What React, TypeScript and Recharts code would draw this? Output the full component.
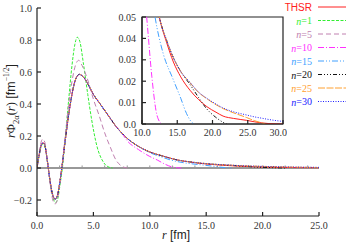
import React from 'react';
import { LineChart, Line, XAxis, YAxis, ReferenceLine, ReferenceArea } from 'recharts';

// shared inner part of the wave function (same for THSR and large n)
const coreR = [0, 0.2, 0.4, 0.55, 0.7, 0.85, 1.0, 1.2, 1.4, 1.6, 1.8, 2.0, 2.2, 2.5, 2.8, 3.1, 3.4, 3.75, 4.1, 4.7, 5.0, 5.5, 6.0, 6.5, 7.0, 7.5];
const coreV = [0, 0.085, 0.148, 0.157, 0.14, 0.08, 0, -0.1, -0.17, -0.195, -0.175, -0.1, 0, 0.17, 0.33, 0.46, 0.55, 0.585, 0.57, 0.5, 0.46, 0.41, 0.36, 0.31, 0.26, 0.22];

const thsrTailR = [8, 9, 10, 11.2, 12.45, 13.5, 14.45, 15.5, 16.8, 18, 19.2, 20.5, 21.5, 23, 24.85, 26, 27, 28, 30];
const thsrTailV = [0.185, 0.135, 0.1, 0.074, 0.05, 0.038, 0.029, 0.022, 0.0158, 0.0115, 0.0081, 0.0055, 0.0037, 0.0026, 0.0017, 0.001, 0.0005, 0.0002, 0];

const n30TailR = [13.5, 14.45, 15.5, 16.8, 18, 19.2, 20.5, 21.5, 23, 24.85, 26, 27, 28, 29, 30];
const n30TailV = [0.039, 0.031, 0.0245, 0.0195, 0.015, 0.012, 0.0093, 0.0075, 0.0057, 0.0042, 0.0033, 0.0027, 0.0021, 0.0016, 0.0012];

const n25TailR = [13.5, 14.45, 15.5, 16.8, 18, 19.2, 20.5, 21.5, 23, 24.85, 26, 27, 27.5];
const n25TailV = [0.039, 0.031, 0.0245, 0.0193, 0.0148, 0.0118, 0.009, 0.0072, 0.0052, 0.003, 0.0015, 0.0005, 0];

const n20TailR = [13.5, 14.45, 15.5, 16.8, 18, 19.2, 20.4, 21.5, 22];
const n20TailV = [0.039, 0.031, 0.0245, 0.0185, 0.0125, 0.007, 0.0033, 0.0008, 0];

const n15TailR = [10, 11, 11.85, 13, 14.4, 15.5, 16.3, 17, 17.3];
const n15TailV = [0.096, 0.07, 0.05, 0.033, 0.021, 0.012, 0.005, 0.001, 0];

const n10TailR = [8, 9, 10, 10.66, 11.4, 12, 12.5, 12.8];
const n10TailV = [0.17, 0.115, 0.072, 0.05, 0.022, 0.006, 0.001, 0];

const n5R = [0, 0.2, 0.4, 0.5, 0.7, 0.85, 1.0, 1.2, 1.4, 1.6, 1.8, 2.0, 2.2, 2.5, 2.8, 3.1, 3.4, 3.7, 4.0, 4.5, 5.0, 5.5, 6.0, 6.5, 7.0, 7.5, 8.0];
const n5V = [0, 0.1, 0.17, 0.18, 0.16, 0.09, 0, -0.115, -0.2, -0.225, -0.2, -0.11, 0, 0.2, 0.39, 0.54, 0.64, 0.673, 0.64, 0.55, 0.43, 0.33, 0.22, 0.13, 0.05, 0.012, 0];

const n1R = [0, 0.2, 0.4, 0.55, 0.7, 0.85, 1.0, 1.2, 1.4, 1.65, 1.85, 2.05, 2.25, 2.5, 2.8, 3.1, 3.35, 3.57, 3.8, 4.1, 4.5, 4.85, 5.3, 5.9, 6.3, 6.7];
const n1V = [0, 0.08, 0.14, 0.15, 0.135, 0.075, 0, -0.105, -0.18, -0.215, -0.19, -0.1, 0, 0.18, 0.42, 0.64, 0.77, 0.817, 0.79, 0.66, 0.46, 0.3, 0.14, 0.035, 0.008, 0];

const mainYTicks = [-0.2, 0, 0.2, 0.4, 0.6, 0.8, 1.0];
const mainXTicks = [0, 5, 10, 15, 20, 25];
const zeroLineMarks = [2, 4, 6, 8, 10, 12, 14, 16, 18, 20, 22, 24];
const insetYTicks = [0, 0.01, 0.02, 0.03, 0.04, 0.05];
const insetXTicks = [10, 15, 20, 25, 30];

type Pt = { r: number; v: number };
const pts = (r: number[], v: number[]): Pt[] => r.map((x, i) => ({ r: x, v: v[i] }));
const upTo = (r: number[], v: number[], max: number) => pts(r, v).filter((p) => p.r <= max);

const core = pts(coreR, coreV);
const thsr = [...core, ...pts(thsrTailR, thsrTailV)];
const n30 = [...core, ...upTo(thsrTailR, thsrTailV, 12.45), ...pts(n30TailR, n30TailV)];
const n25 = [...core, ...upTo(thsrTailR, thsrTailV, 12.45), ...pts(n25TailR, n25TailV)];
const n20 = [...core, ...upTo(thsrTailR, thsrTailV, 12.45), ...pts(n20TailR, n20TailV)];
const n15 = [...core, ...upTo(thsrTailR, thsrTailV, 9), ...pts(n15TailR, n15TailV)];
const n10 = [...core, ...pts(n10TailR, n10TailV)];
const n5 = pts(n5R, n5V);
const n1 = pts(n1R, n1V);

const series = [
  { key: 'THSR', n: '', data: thsr, color: '#ff2020', dash: undefined as string | undefined },
  { key: 'n1', n: '1', data: n1, color: '#33ee33', dash: '3 1.5' },
  { key: 'n5', n: '5', data: n5, color: '#c080b0', dash: '5 3' },
  { key: 'n10', n: '10', data: n10, color: '#ff30ff', dash: '6 2 1 2' },
  { key: 'n15', n: '15', data: n15, color: '#40a0ff', dash: '6 2 1 2 1 2' },
  { key: 'n20', n: '20', data: n20, color: '#111111', dash: '4 2 1 2 1 2 1 2' },
  { key: 'n25', n: '25', data: n25, color: '#ffa030', dash: '7 1.5' },
  { key: 'n30', n: '30', data: n30, color: '#2020ff', dash: '1 1.5' },
];

const serif = '"Liberation Serif", "DejaVu Serif", serif';
const sans = '"Liberation Sans", Arial, sans-serif';
const axisColor = '#222';

const fmtMainY = (v: number) => (v < 0 ? '\u2212' + Math.abs(v).toFixed(1) : v.toFixed(1));
const fmtInsetY = (v: number) => (v === 0 ? '0.0' : v.toFixed(2));

const tickStyle = { fontSize: 10, fontFamily: serif, fill: '#333' };

export default function App() {
  const legendRows = [7, 20.5, 34, 47.5, 61, 74.5, 88, 101.5];
  return (
    <div style={{ position: 'fixed', left: 0, top: 0, width: 349, height: 244, background: '#fff' }}>
      <div style={{ position: 'absolute', left: 0, top: 0 }}>
        <LineChart width={349} height={244} margin={{ top: 8, right: 30, bottom: 0, left: 0 }}>
          <XAxis
            type="number"
            dataKey="r"
            domain={[0, 25]}
            ticks={mainXTicks}
            allowDataOverflow
            height={28}
            tickSize={-4}
            tickMargin={10}
            tickFormatter={(v: number) => v.toFixed(1)}
            tick={tickStyle}
            stroke={axisColor}
            strokeWidth={1.2}
          />
          <YAxis
            type="number"
            dataKey="v"
            domain={[-0.3, 1.0]}
            ticks={mainYTicks}
            allowDataOverflow
            width={37}
            tickSize={-4}
            tickMargin={9}
            tickFormatter={fmtMainY}
            tick={tickStyle}
            stroke={axisColor}
            strokeWidth={1.2}
          />
          <ReferenceLine y={0} stroke="#333" strokeWidth={1} />
          {zeroLineMarks.map((x) => (
            <ReferenceLine
              key={x}
              segment={[{ x, y: 0 }, { x, y: 0.016 }]}
              stroke="#999"
              strokeWidth={1}
            />
          ))}
          {series.map((s) => (
            <Line
              key={s.key}
              data={s.data}
              dataKey="v"
              type="monotone"
              stroke={s.color}
              strokeWidth={1}
              strokeDasharray={s.dash}
              dot={false}
              isAnimationActive={false}
            />
          ))}
        </LineChart>
      </div>
      <div style={{ position: 'absolute', left: 107, top: 9 }}>
        <LineChart width={180} height={130} margin={{ top: 8, right: 4, bottom: 0, left: 0 }}>
          <XAxis
            type="number"
            dataKey="r"
            domain={[10, 30]}
            ticks={insetXTicks}
            allowDataOverflow
            height={15}
            tickSize={-4}
            tickMargin={9}
            tickFormatter={(v: number) => v.toFixed(1)}
            tick={tickStyle}
            stroke={axisColor}
            strokeWidth={1.2}
          />
          <YAxis
            type="number"
            dataKey="v"
            domain={[0, 0.05]}
            ticks={insetYTicks}
            allowDataOverflow
            width={35}
            tickSize={-4}
            tickMargin={10}
            tickFormatter={fmtInsetY}
            tick={tickStyle}
            stroke={axisColor}
            strokeWidth={1.2}
          />
          <ReferenceArea x1={10} x2={30} y1={0} y2={0.05} fill="none" stroke={axisColor} strokeWidth={1.2} />
          {series.map((s) => (
            <Line
              key={s.key}
              data={s.data}
              dataKey="v"
              type="monotone"
              stroke={s.color}
              strokeWidth={1}
              strokeDasharray={s.dash}
              dot={false}
              isAnimationActive={false}
            />
          ))}
        </LineChart>
      </div>
      <svg width={349} height={244} style={{ position: 'absolute', left: 0, top: 0, pointerEvents: 'none' }}>
        {series.map((s, i) => (
          <g key={s.key}>
            <text
              x={312}
              y={legendRows[i]}
              textAnchor="end"
              dominantBaseline="central"
              fontSize={10}
              fill={s.color}
              fontFamily={s.n ? serif : sans}
            >
              {s.n ? (
                <>
                  <tspan fontStyle="italic">n</tspan>={s.n}
                </>
              ) : (
                'THSR'
              )}
            </text>
            <line x1={318} x2={346} y1={legendRows[i]} y2={legendRows[i]} stroke={s.color} strokeWidth={1} strokeDasharray={s.dash} />
          </g>
        ))}
        <text
          x={11}
          y={101}
          transform="rotate(-90 11 101)"
          textAnchor="middle"
          dominantBaseline="central"
          fontSize={12.5}
          fontFamily={serif}
          fill="#222"
        >
          <tspan fontStyle="italic">r</tspan>Φ<tspan fontSize={8.5} baselineShift="sub">2α</tspan>(<tspan fontStyle="italic">r</tspan>)
          <tspan fontFamily={sans}> [fm</tspan>
          <tspan fontSize={7.5} baselineShift="super">−1/2</tspan>
          <tspan fontFamily={sans}>]</tspan>
        </text>
        <text x={176} y={235} textAnchor="middle" dominantBaseline="central" fontSize={12} fill="#222">
          <tspan fontStyle="italic" fontFamily={serif}>r</tspan>
          <tspan fontFamily={sans}> [fm]</tspan>
        </text>
      </svg>
    </div>
  );
}
